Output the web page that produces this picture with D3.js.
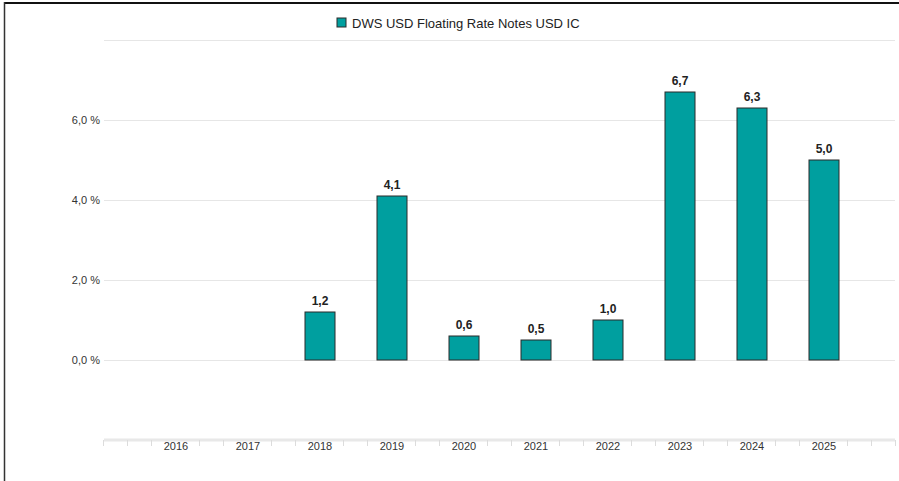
<!DOCTYPE html>
<html>
<head>
<meta charset="utf-8">
<script src="https://cdn.jsdelivr.net/npm/d3@7"></script>
<style>
  body { margin: 0; background: #fff; }
  svg { font-family: "Liberation Sans", Arial, sans-serif; }
</style>
</head>
<body>
<svg id="chart" width="899" height="481"></svg>
<script>
// chart data
const years = [2016, 2017, 2018, 2019, 2020, 2021, 2022, 2023, 2024, 2025];
const values = [null, null, 1.2, 4.1, 0.6, 0.5, 1.0, 6.7, 6.3, 5.0];
const yTicks = [0, 2, 4, 6];
const seriesName = 'DWS USD Floating Rate Notes USD IC';

const width = 899;
const height = 481;
const margin = { top: 40, right: 3, bottom: 41, left: 104 };
const barColor = '#009f9f';

const svg = d3.select('#chart');

// frame
svg.append('line').attr('x1', 4).attr('x2', width).attr('y1', 3).attr('y2', 3)
  .attr('stroke', '#111').attr('stroke-width', 2);
svg.append('line').attr('x1', 4.5).attr('x2', 4.5).attr('y1', 2).attr('y2', height)
  .attr('stroke', '#333').attr('stroke-width', 1.5);

const x = d3.scaleLinear()
  .domain([2015, 2026])
  .range([margin.left, width - margin.right]);

const y = d3.scaleLinear()
  .domain([-2, 8])
  .range([height - margin.bottom, margin.top]);

// grid lines
const gridVals = [...yTicks, 8];
svg.append('g')
  .selectAll('line')
  .data(gridVals)
  .join('line')
  .attr('x1', x(2015))
  .attr('x2', x(2026) - 1)
  .attr('y1', (d) => Math.round(y(d)) + 0.5)
  .attr('y2', (d) => Math.round(y(d)) + 0.5)
  .attr('stroke', '#e6e6e6')
  .attr('stroke-width', 1);

// y labels
svg.append('g')
  .selectAll('text')
  .data(yTicks)
  .join('text')
  .attr('x', margin.left - 4)
  .attr('y', (d) => y(d) + 4)
  .attr('text-anchor', 'end')
  .attr('font-size', 11)
  .attr('fill', '#333')
  .text((d) => d3.format('.1f')(d).replace('.', ',') + ' %');

// x axis
const axisY = y(-2);
const minorTicks = d3.range(0, 34).map((i) => 2015 + i / 3);
svg.append('line')
  .attr('x1', x(2015)).attr('x2', x(2026) - 1)
  .attr('y1', axisY).attr('y2', axisY)
  .attr('stroke', '#e8e8e8').attr('stroke-width', 3);
svg.append('g')
  .selectAll('line')
  .data(minorTicks.filter((t) => Math.abs(t - Math.round(t)) > 0.01 || t === 2015 || t === 2026))
  .join('line')
  .attr('x1', (d) => Math.round(x(d)) - 0.5)
  .attr('x2', (d) => Math.round(x(d)) - 0.5)
  .attr('y1', axisY)
  .attr('y2', axisY + 6)
  .attr('stroke', '#dcdcdc')
  .attr('stroke-width', 1);

svg.append('g')
  .selectAll('text')
  .data(years)
  .join('text')
  .attr('x', (d) => x(d))
  .attr('y', axisY + 10)
  .attr('text-anchor', 'middle')
  .attr('font-size', 11)
  .attr('fill', '#333')
  .text((d) => d);

// bars
const barW = 30;
const pts = years.map((yr, i) => ({ yr, v: values[i] })).filter((d) => d.v !== null);
svg.append('g')
  .selectAll('rect')
  .data(pts)
  .join('rect')
  .attr('x', (d) => x(d.yr) - barW / 2)
  .attr('y', (d) => y(d.v))
  .attr('width', barW)
  .attr('height', (d) => y(0) - y(d.v))
  .attr('fill', barColor)
  .attr('stroke', '#2b2b2b')
  .attr('stroke-width', 1);

svg.append('g')
  .selectAll('text')
  .data(pts)
  .join('text')
  .attr('x', (d) => x(d.yr))
  .attr('y', (d) => y(d.v) - 7)
  .attr('text-anchor', 'middle')
  .attr('font-size', 12)
  .attr('font-weight', 'bold')
  .attr('fill', '#222')
  .text((d) => d3.format('.1f')(d.v).replace('.', ','));

// legend
const legend = svg.append('g').attr('transform', 'translate(337,18)');
legend.append('rect')
  .attr('width', 9).attr('height', 9)
  .attr('fill', barColor)
  .attr('stroke', '#2b2b2b');
legend.append('text')
  .attr('x', 15).attr('y', 9.5)
  .attr('font-size', 13)
  .attr('fill', '#222')
  .text(seriesName);
</script>
</body>
</html>
